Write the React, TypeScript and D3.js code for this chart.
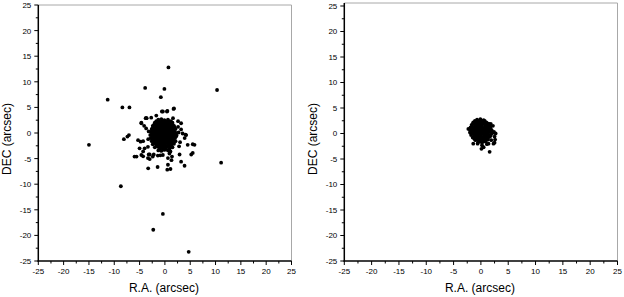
import React, { useEffect, useRef } from "react";
import * as d3 from "d3";

const majorTicks = [-25, -20, -15, -10, -5, 0, 5, 10, 15, 20, 25];
const minorTicks = [-22.5, -17.5, -12.5, -7.5, -2.5, 2.5, 7.5, 12.5, 17.5, 22.5];

// left panel: dense core around the centre
const leftCore: [number, number][] = [
  [-1.3, 2.6], [-0.7, 2.7], [-0.1, 2.5], [0.6, 2.6],
  [-2.0, 2.0], [-1.4, 2.1], [-0.8, 1.9], [-0.2, 2.0], [0.4, 2.1], [1.0, 1.9], [1.5, 2.0],
  [-2.4, 1.4], [-1.8, 1.5], [-1.2, 1.3], [-0.6, 1.4], [0.0, 1.5], [0.6, 1.3], [1.2, 1.4], [1.8, 1.4],
  [-2.6, 0.8], [-2.0, 0.9], [-1.4, 0.7], [-0.8, 0.8], [-0.2, 0.9], [0.4, 0.7], [1.0, 0.8], [1.6, 0.9], [2.1, 0.8],
  [-2.8, 0.2], [-2.2, 0.3], [-1.6, 0.1], [-1.0, 0.2], [-0.4, 0.3], [0.2, 0.1], [0.8, 0.2], [1.4, 0.3], [2.0, 0.2],
  [-2.9, -0.4], [-2.3, -0.3], [-1.7, -0.5], [-1.1, -0.4], [-0.5, -0.3], [0.1, -0.5], [0.7, -0.4], [1.3, -0.3], [1.9, -0.4], [2.3, -0.5],
  [-2.8, -1.0], [-2.2, -0.9], [-1.6, -1.1], [-1.0, -1.0], [-0.4, -0.9], [0.2, -1.1], [0.8, -1.0], [1.4, -0.9], [2.0, -1.0],
  [-2.6, -1.6], [-2.0, -1.5], [-1.4, -1.7], [-0.8, -1.6], [-0.2, -1.5], [0.4, -1.7], [1.0, -1.6], [1.6, -1.5], [2.1, -1.6],
  [-2.4, -2.2], [-1.8, -2.1], [-1.2, -2.3], [-0.6, -2.2], [0.0, -2.1], [0.6, -2.3], [1.2, -2.2], [1.8, -2.1],
  [-2.0, -2.8], [-1.4, -2.7], [-0.8, -2.9], [-0.2, -2.8], [0.4, -2.7], [1.0, -2.9], [1.5, -2.8],
  [-1.3, -3.4], [-0.7, -3.5], [-0.1, -3.3], [0.6, -3.4], [1.1, -3.6],
];

// left panel: points lying between the core rows
const leftCoreFill: [number, number][] = [
  [-1.7, 2.3], [-1.1, 2.3], [-0.5, 2.3], [0.1, 2.3], [0.7, 2.3], [1.2, 2.3],
  [-2.1, 1.7], [-1.5, 1.7], [-0.9, 1.7], [-0.3, 1.7], [0.3, 1.7], [0.9, 1.7], [1.5, 1.7],
  [-2.3, 1.1], [-1.7, 1.1], [-1.1, 1.1], [-0.5, 1.1], [0.1, 1.1], [0.7, 1.1], [1.3, 1.1], [1.9, 1.1],
  [-2.5, 0.5], [-1.9, 0.5], [-1.3, 0.5], [-0.7, 0.5], [-0.1, 0.5], [0.5, 0.5], [1.1, 0.5], [1.7, 0.5],
  [-2.5, -0.1], [-1.9, -0.1], [-1.3, -0.1], [-0.7, -0.1], [-0.1, -0.1], [0.5, -0.1], [1.1, -0.1], [1.7, -0.1], [2.2, -0.1],
  [-2.5, -0.7], [-1.9, -0.7], [-1.3, -0.7], [-0.7, -0.7], [-0.1, -0.7], [0.5, -0.7], [1.1, -0.7], [1.7, -0.7], [2.2, -0.7],
  [-2.5, -1.3], [-1.9, -1.3], [-1.3, -1.3], [-0.7, -1.3], [-0.1, -1.3], [0.5, -1.3], [1.1, -1.3], [1.7, -1.3],
  [-2.1, -1.9], [-1.5, -1.9], [-0.9, -1.9], [-0.3, -1.9], [0.3, -1.9], [0.9, -1.9], [1.5, -1.9],
  [-1.7, -2.5], [-1.1, -2.5], [-0.5, -2.5], [0.1, -2.5], [0.7, -2.5], [1.3, -2.5],
  [-1.0, -3.1], [-0.4, -3.1], [0.2, -3.1], [0.9, -3.1],
];

// left panel: scattered points outside the core
const leftHalo: [number, number][] = [
  [0.7, 12.8], [-3.9, 8.8], [-0.1, 8.6], [10.3, 8.4], [-0.8, 7.0], [-11.3, 6.5],
  [-8.4, 5.0], [-7.0, 5.0], [1.7, 4.7], [-0.4, 4.2], [0.4, 4.2], [1.8, 4.8],
  [-0.6, 4.2], [0.5, 4.3], [-3.7, 2.9], [-2.7, 3.0], [-1.7, 3.4], [-4.65, 2.0],
  [-4.1, 1.4], [-3.7, 0.9], [-3.8, 2.9], [1.6, 2.9], [2.6, 2.3], [3.2, 1.9],
  [2.6, 1.2], [3.2, 0.7], [4.2, -0.4], [3.5, -0.1], [3.9, -1.0], [4.5, -2.3],
  [5.5, -2.2], [5.85, -2.3], [4.07, -0.33], [-3.6, 2.9], [-4.65, 1.9],
  [-15.0, -2.3], [-8.1, -1.2], [-7.4, -0.7], [-7.1, -0.4],
  [-5.3, -1.4], [-4.8, -1.7], [-4.3, -1.6], [-5.0, -3.0], [-4.0, -3.0], [-3.35, -2.7],
  [-3.3, -1.2], [-3.2, 0.3], [2.8, -2.6], [2.7, 0.1], [3.0, -1.8],
  [-5.6, -4.6], [-4.65, -4.3], [-3.0, -4.2], [-2.4, -4.6], [-1.4, -4.4], [-3.35, -4.9],
  [-0.4, -4.3], [0.6, -4.9], [1.3, -5.3], [3.2, -5.6], [5.2, -4.2], [0.9, -4.0], [1.4, -4.6],
  [-6.0, -4.6], [-4.3, -3.6], [-4.3, -4.55], [-3.2, -4.2], [-3.0, -5.1], [-2.2, -4.2],
  [-3.3, -6.9], [-1.44, -6.64], [-0.9, -4.36], [0.6, -6.2], [0.47, -7.17], [1.1, -7.03],
  [3.88, -6.4], [2.9, -4.2], [5.5, -3.9], [11.1, -5.8],
  [-8.7, -10.4], [-0.4, -15.8], [-2.3, -18.9], [4.7, -23.2],
];

// right panel: compact core
const rightCore: [number, number][] = [
  [-0.7, 2.7], [-0.1, 2.8], [0.5, 2.6],
  [-1.4, 2.2], [-0.8, 2.3], [-0.2, 2.2], [0.4, 2.1], [1.0, 2.2],
  [-1.7, 1.7], [-1.1, 1.8], [-0.5, 1.6], [0.1, 1.7], [0.7, 1.8], [1.3, 1.6], [1.7, 1.7],
  [-1.9, 1.2], [-1.3, 1.1], [-0.7, 1.3], [-0.1, 1.2], [0.5, 1.1], [1.1, 1.2], [1.7, 1.3],
  [-2.0, 0.7], [-1.4, 0.6], [-0.8, 0.8], [-0.2, 0.7], [0.4, 0.6], [1.0, 0.7], [1.6, 0.8], [2.0, 0.6],
  [-2.0, 0.2], [-1.4, 0.1], [-0.8, 0.3], [-0.2, 0.2], [0.4, 0.1], [1.0, 0.2], [1.6, 0.3], [2.1, 0.1],
  [-1.8, -0.3], [-1.2, -0.4], [-0.6, -0.2], [0.0, -0.3], [0.6, -0.4], [1.2, -0.2], [1.8, -0.3],
  [-1.5, -0.8], [-0.9, -0.9], [-0.3, -0.7], [0.3, -0.8], [0.9, -0.9], [1.5, -0.7],
  [-1.0, -1.3], [-0.4, -1.2], [0.2, -1.4], [0.8, -1.3], [1.3, -1.2],
  [-0.5, -1.7], [0.2, -1.8], [0.9, -1.6],
];

// right panel: points lying between the core rows
const rightCoreFill: [number, number][] = [
  [-1.1, 2.45], [-0.5, 2.45], [0.1, 2.45], [0.7, 2.45],
  [-1.4, 1.95], [-0.8, 1.95], [-0.2, 1.95], [0.4, 1.95], [1.0, 1.95], [1.4, 1.95],
  [-1.6, 1.45], [-1.0, 1.45], [-0.4, 1.45], [0.2, 1.45], [0.8, 1.45], [1.4, 1.45],
  [-1.7, 0.95], [-1.1, 0.95], [-0.5, 0.95], [0.1, 0.95], [0.7, 0.95], [1.3, 0.95], [1.8, 0.95],
  [-1.7, 0.45], [-1.1, 0.45], [-0.5, 0.45], [0.1, 0.45], [0.7, 0.45], [1.3, 0.45], [1.8, 0.45],
  [-1.7, -0.05], [-1.1, -0.05], [-0.5, -0.05], [0.1, -0.05], [0.7, -0.05], [1.3, -0.05], [1.9, -0.05],
  [-1.2, -0.55], [-0.6, -0.55], [0.0, -0.55], [0.6, -0.55], [1.2, -0.55], [1.7, -0.55],
  [-1.2, -1.05], [-0.7, -1.05], [-0.1, -1.05], [0.5, -1.05], [1.1, -1.05],
  [-0.2, -1.55], [0.5, -1.55],
];

// right panel: points on the edge of the core
const rightHalo: [number, number][] = [
  [-1.4, -2.0], [-0.6, -2.0], [0.2, -2.3], [0.5, -2.7], [1.1, -2.1], [1.4, -2.0],
  [2.3, -2.0], [2.5, -1.8], [1.6, -3.6], [0.1, -3.0], [2.4, 0.3], [2.7, 0.0],
  [2.5, -0.6], [2.2, 1.5], [1.8, 1.9], [-2.3, 0.9], [2.6, -1.2], [1.9, -1.3],
];

const panels = [
  { points: [...leftCore, ...leftCoreFill, ...leftHalo], left: 38.3, right: 291.5, top: 5, frameTop: 5, bottom: 261 },
  { points: [...rightCore, ...rightCoreFill, ...rightHalo], left: 344.3, right: 617.5, top: 6, frameTop: 3, bottom: 261 },
];

const W = 624;
const H = 297;
const font = "Liberation Sans, Arial, sans-serif";

export default function App() {
  const svgRef = useRef<SVGSVGElement>(null);

  useEffect(() => {
    const svg = d3.select(svgRef.current);
    svg.selectAll("*").remove();

    panels.forEach((p) => {
      const x = d3.scaleLinear().domain([-25, 25]).range([p.left, p.right]);
      const y = d3.scaleLinear().domain([-25, 25]).range([p.bottom, p.top]);
      const g = svg.append("g");

      // frame: grey top/right, black left/bottom
      g.append("line").attr("x1", p.left).attr("x2", p.right).attr("y1", p.frameTop).attr("y2", p.frameTop)
        .attr("stroke", "#a8a8a8").attr("stroke-width", 1);
      g.append("line").attr("x1", p.right).attr("x2", p.right).attr("y1", p.frameTop).attr("y2", p.bottom)
        .attr("stroke", "#a8a8a8").attr("stroke-width", 1);

      // points
      g.selectAll("circle.pt")
        .data(p.points)
        .enter()
        .append("circle")
        .attr("class", "pt")
        .attr("cx", (d) => x(d[0]))
        .attr("cy", (d) => y(d[1]))
        .attr("r", 1.9)
        .attr("fill", "#000");

      g.append("line").attr("x1", p.left).attr("x2", p.left).attr("y1", p.frameTop).attr("y2", p.bottom + 0.75)
        .attr("stroke", "#000").attr("stroke-width", 1.5);
      g.append("line").attr("x1", p.left - 0.75).attr("x2", p.right).attr("y1", p.bottom).attr("y2", p.bottom)
        .attr("stroke", "#000").attr("stroke-width", 1.5);

      // ticks
      majorTicks.forEach((t) => {
        g.append("line").attr("x1", x(t)).attr("x2", x(t)).attr("y1", p.bottom).attr("y2", p.bottom + 4)
          .attr("stroke", "#000").attr("stroke-width", 1);
        g.append("line").attr("x1", p.left - 4).attr("x2", p.left).attr("y1", y(t)).attr("y2", y(t))
          .attr("stroke", "#000").attr("stroke-width", 1);
        g.append("text").attr("x", x(t)).attr("y", p.bottom + 13).attr("text-anchor", "middle")
          .attr("font-family", font).attr("font-size", 8).text(t);
        g.append("text").attr("x", p.left - 7).attr("y", y(t) + 2.9).attr("text-anchor", "end")
          .attr("font-family", font).attr("font-size", 8).text(t);
      });
      minorTicks.forEach((t) => {
        g.append("line").attr("x1", x(t)).attr("x2", x(t)).attr("y1", p.bottom).attr("y2", p.bottom + 2.5)
          .attr("stroke", "#000").attr("stroke-width", 1);
        g.append("line").attr("x1", p.left - 2.5).attr("x2", p.left).attr("y1", y(t)).attr("y2", y(t))
          .attr("stroke", "#000").attr("stroke-width", 1);
      });

      // axis titles
      g.append("text").attr("x", (p.left + p.right) / 2 - 1).attr("y", 292).attr("text-anchor", "middle")
        .attr("font-family", font).attr("font-size", 12).text("R.A. (arcsec)");
      g.append("text").attr("transform", `translate(${p.left - 27},139) rotate(-90)`).attr("text-anchor", "middle")
        .attr("font-family", font).attr("font-size", 12).text("DEC (arcsec)");
    });
  }, []);

  return (
    <svg ref={svgRef} width={W} height={H} style={{ position: "absolute", left: 0, top: 0, background: "#fff" }} />
  );
}
